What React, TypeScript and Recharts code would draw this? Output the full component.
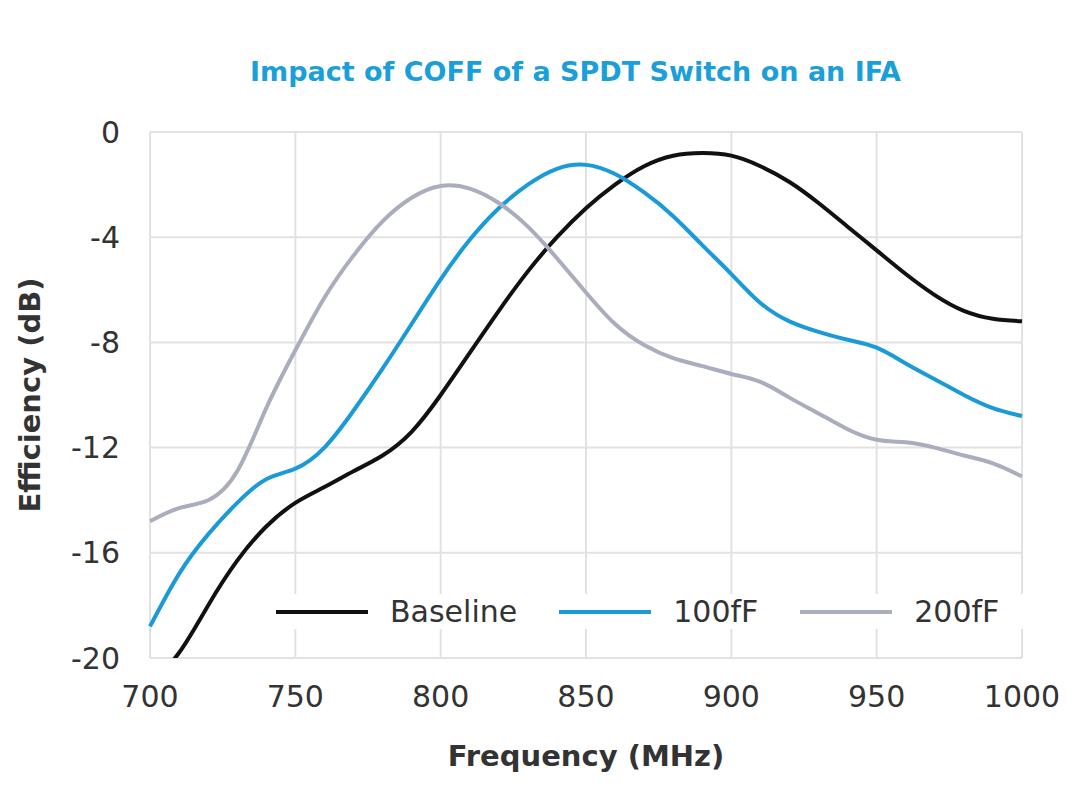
import React from "react";
import { LineChart, Line, XAxis, YAxis, CartesianGrid } from "recharts";

const freqs = [700,710,720,730,740,750,760,770,780,790,800,810,820,830,840,850,860,870,880,890,900,910,920,930,940,950,960,970,980,990,1000];
const baseline = [-21,-19.8,-18,-16.3,-15,-14.1,-13.5,-12.9,-12.3,-11.4,-10,-8.4,-6.8,-5.3,-4,-2.9,-2,-1.3,-0.9,-0.8,-0.9,-1.3,-1.9,-2.7,-3.6,-4.5,-5.4,-6.2,-6.8,-7.1,-7.2];
const f100 = [-18.8,-16.8,-15.3,-14.1,-13.2,-12.8,-12,-10.6,-9,-7.3,-5.6,-4.1,-2.9,-2,-1.4,-1.25,-1.6,-2.3,-3.2,-4.3,-5.4,-6.5,-7.2,-7.6,-7.9,-8.2,-8.8,-9.4,-10,-10.5,-10.8];
const f200 = [-14.8,-14.3,-14,-12.9,-10.5,-8.3,-6.3,-4.7,-3.4,-2.5,-2.05,-2.15,-2.7,-3.6,-4.8,-6.1,-7.3,-8.1,-8.6,-8.9,-9.2,-9.5,-10.1,-10.7,-11.3,-11.7,-11.8,-12,-12.3,-12.6,-13.1];
const xTicks = [700,750,800,850,900,950,1000];
const yTicks = [0,-4,-8,-12,-16,-20];

const data = freqs.map((f, i) => ({ f, b: baseline[i], a: f100[i], c: f200[i] }));
const tickStyle = { fontSize: 30, fill: "#333", fontFamily: "DejaVu Sans" };
const legend = [["Baseline", "#111"], ["100fF", "#1a9ad6"], ["200fF", "#a9adbd"]];

export default function App() {
  return (
    <div style={{ position: "relative", width: 1070, height: 784, fontFamily: "DejaVu Sans" }}>
      <div style={{ position: "absolute", top: 48, left: 0, width: 1135, textAlign: "center", color: "#1a9fd8", fontWeight: "bold", fontSize: 27 }}>
        Impact of COFF of a SPDT Switch on an IFA
      </div>
      <LineChart width={1070} height={784} data={data} margin={{ top: 124, right: 56, bottom: 74, left: 62 }}>
        <CartesianGrid stroke="#e2e2e2" strokeWidth={2} />
        <XAxis dataKey="f" type="number" domain={[700, 1000]} ticks={xTicks} axisLine={false} tickLine={false} tick={tickStyle} tickMargin={22} height={60}
          label={{ value: "Frequency (MHz)", position: "insideBottom", offset: -48, style: { fontSize: 29, fontWeight: "bold", fill: "#333" } }} />
        <YAxis type="number" domain={[-20, 0]} allowDataOverflow ticks={yTicks} axisLine={false} tickLine={false} tick={tickStyle} width={80} tickMargin={24}
          label={{ value: "Efficiency (dB)", angle: -90, position: "insideLeft", offset: -40, style: { fontSize: 29, fontWeight: "bold", fill: "#333", textAnchor: "middle" } }} />
        <Line dataKey="b" stroke="#111" strokeWidth={4} dot={false} type="natural" isAnimationActive={false} />
        <Line dataKey="a" stroke="#1a9ad6" strokeWidth={4} dot={false} type="natural" isAnimationActive={false} />
        <Line dataKey="c" stroke="#a9adbd" strokeWidth={4} dot={false} type="natural" isAnimationActive={false} />
      </LineChart>
      <div style={{ position: "absolute", top: 586, left: 268, display: "flex", alignItems: "center", fontSize: 30, color: "#333", background: "white" }}>
        {legend.map(([n, c]) => (
          <div key={n} style={{ display: "flex", alignItems: "center", marginRight: 42 }}>
            <div style={{ width: 92, height: 4, background: c, marginRight: 22 }} />
            <span>{n}</span>
          </div>
        ))}
      </div>
    </div>
  );
}
